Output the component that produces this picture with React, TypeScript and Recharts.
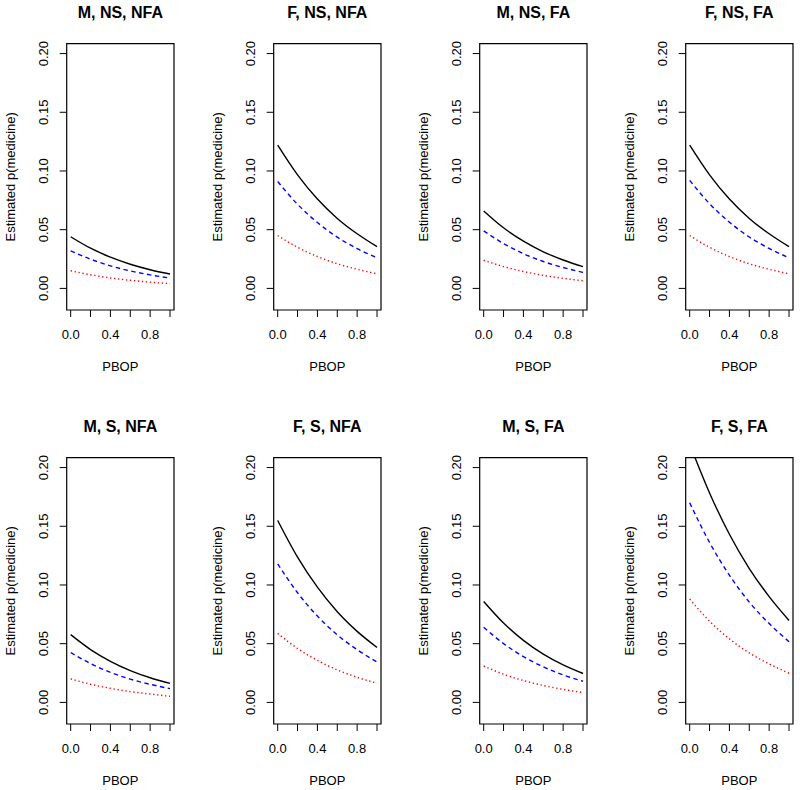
import React from "react";
import { LineChart, Line, XAxis, YAxis, ReferenceArea } from "recharts";

const pbop = [0, 0.2, 0.4, 0.6, 0.8, 1.0];
const xTicks = [0, 0.2, 0.4, 0.6, 0.8, 1.0];
const xTickLabels = ["0.0", "", "0.4", "", "0.8", ""];
const yTicks = [0, 0.05, 0.1, 0.15, 0.2];
const yTickLabels = ["0.00", "0.05", "0.10", "0.15", "0.20"];

const titles = [
  "M, NS, NFA", "F, NS, NFA", "M, NS, FA", "F, NS, FA",
  "M, S, NFA", "F, S, NFA", "M, S, FA", "F, S, FA",
];

// black solid
const black1 = [0.044, 0.0342, 0.0266, 0.0206, 0.0159, 0.0122];
const black2 = [0.122, 0.0967, 0.0761, 0.0596, 0.0465, 0.0355];
const black3 = [0.066, 0.0516, 0.0402, 0.0312, 0.0242, 0.0185];
const black4 = [0.122, 0.0967, 0.0761, 0.0596, 0.0465, 0.0355];
const black5 = [0.0577, 0.045, 0.035, 0.0271, 0.021, 0.0162];
const black6 = [0.155, 0.1237, 0.0981, 0.0772, 0.0605, 0.0468];
const black7 = [0.086, 0.0676, 0.0528, 0.0411, 0.0319, 0.0246];
const black8 = [0.22, 0.1784, 0.1432, 0.114, 0.0901, 0.0698];
// blue dashed
const blue1 = [0.032, 0.0249, 0.0192, 0.0149, 0.0115, 0.0088];
const blue2 = [0.091, 0.0716, 0.0561, 0.0436, 0.0339, 0.0261];
const blue3 = [0.049, 0.0382, 0.0296, 0.0229, 0.0178, 0.0136];
const blue4 = [0.092, 0.0722, 0.0564, 0.0438, 0.034, 0.0261];
const blue5 = [0.0425, 0.0331, 0.0256, 0.0198, 0.0154, 0.0117];
const blue6 = [0.118, 0.0934, 0.0735, 0.0575, 0.0449, 0.0344];
const blue7 = [0.064, 0.0501, 0.039, 0.0303, 0.0234, 0.018];
const blue8 = [0.17, 0.1362, 0.1083, 0.0854, 0.0671, 0.0517];
// red dotted
const red1 = [0.015, 0.0116, 0.0089, 0.0069, 0.0053, 0.0041];
const red2 = [0.045, 0.035, 0.0271, 0.021, 0.0163, 0.0124];
const red3 = [0.024, 0.0186, 0.0144, 0.0111, 0.0086, 0.0065];
const red4 = [0.045, 0.035, 0.0271, 0.021, 0.0163, 0.0124];
const red5 = [0.02, 0.0155, 0.012, 0.0092, 0.0071, 0.0052];
const red6 = [0.0588, 0.0459, 0.0358, 0.0277, 0.0214, 0.0163];
const red7 = [0.031, 0.024, 0.0186, 0.0144, 0.0111, 0.0084];
const red8 = [0.088, 0.0692, 0.0541, 0.0421, 0.0328, 0.0248];

const blacks = [black1, black2, black3, black4, black5, black6, black7, black8];
const blues = [blue1, blue2, blue3, blue4, blue5, blue6, blue7, blue8];
const reds = [red1, red2, red3, red4, red5, red6, red7, red8];

const X_DOMAIN: [number, number] = [-0.04, 1.04];
const Y_DOMAIN: [number, number] = [-0.0184, 0.2084];

const FONT = "'Liberation Sans', Arial, Helvetica, sans-serif";
const FS = 13;

const BOX_LEFT = 66.7;
const BOX_W = 107.3;
const BOX_H = 266.3;
const TOP = 43.7;
const RIGHT = 10;
const XAXIS_H = 65;
const CHART_W = BOX_LEFT + BOX_W + RIGHT;
const CHART_H = TOP + BOX_H + XAXIS_H;

const colLefts = [0, 206.6, 412.8, 619.3];
const rowTops = [0, 413.6];

const XTick = (p: any) => {
  const idx = xTicks.indexOf(p.payload.value);
  const label = idx >= 0 ? xTickLabels[idx] : "";
  return (
    <text x={p.x} y={p.y + 21.6} textAnchor="middle" fontFamily={FONT} fontSize={FS} fill="#000">
      {label}
    </text>
  );
};

const YTick = (p: any) => {
  const idx = yTicks.indexOf(p.payload.value);
  const label = idx >= 0 ? yTickLabels[idx] : "";
  const bx = p.x - 11.4;
  return (
    <text
      x={bx}
      y={p.y}
      transform={`rotate(-90 ${bx} ${p.y})`}
      textAnchor="middle"
      fontFamily={FONT}
      fontSize={FS}
      fill="#000"
    >
      {label}
    </text>
  );
};

function Panel({ i }: { i: number }) {
  const data = pbop.map((x, k) => ({
    x,
    black: blacks[i][k],
    blue: blues[i][k],
    red: reds[i][k],
  }));
  const title = titles[i];
  const renderLabels = (props: any) => {
    const vb = props.viewBox || { x: BOX_LEFT, y: TOP, width: BOX_W, height: BOX_H };
    const cx = vb.x + vb.width / 2;
    const cy = vb.y + vb.height / 2;
    const yx = vb.x - 52;
    return (
      <g>
        <text x={cx} y={vb.y - 25.4} textAnchor="middle" fontFamily={FONT} fontSize={16} fontWeight="bold" fill="#000">
          {title}
        </text>
        <text x={cx} y={vb.y + vb.height + 61} textAnchor="middle" fontFamily={FONT} fontSize={FS} fill="#000">
          PBOP
        </text>
        <text
          x={yx}
          y={cy}
          transform={`rotate(-90 ${yx} ${cy})`}
          textAnchor="middle"
          fontFamily={FONT}
          fontSize={FS}
          fill="#000"
        >
          Estimated p(medicine)
        </text>
      </g>
    );
  };
  const col = i % 4;
  const row = Math.floor(i / 4);
  return (
    <div style={{ position: "absolute", left: colLefts[col], top: rowTops[row] }}>
      <LineChart
        width={CHART_W}
        height={CHART_H}
        data={data}
        margin={{ top: TOP, right: RIGHT, bottom: 0, left: 0 }}
      >
        <XAxis
          type="number"
          dataKey="x"
          domain={X_DOMAIN}
          ticks={xTicks}
          interval={0}
          allowDataOverflow
          axisLine={false}
          tickLine={{ stroke: "#000", strokeWidth: 1 }}
          tickSize={7}
          tickMargin={0}
          height={XAXIS_H}
          tick={XTick}
        />
        <YAxis
          type="number"
          domain={Y_DOMAIN}
          ticks={yTicks}
          interval={0}
          allowDataOverflow
          axisLine={false}
          tickLine={{ stroke: "#000", strokeWidth: 1 }}
          tickSize={7}
          tickMargin={0}
          width={BOX_LEFT}
          tick={YTick}
        />
        <Line type="monotone" dataKey="red" stroke="#FF0000" strokeWidth={1.4} strokeDasharray="1.3 2.7" dot={false} isAnimationActive={false} />
        <Line type="monotone" dataKey="blue" stroke="#0000FF" strokeWidth={1.4} strokeDasharray="4.5 3.5" dot={false} isAnimationActive={false} />
        <Line type="monotone" dataKey="black" stroke="#000000" strokeWidth={1.4} dot={false} isAnimationActive={false} />
        <ReferenceArea
          x1={X_DOMAIN[0]}
          x2={X_DOMAIN[1]}
          y1={Y_DOMAIN[0]}
          y2={Y_DOMAIN[1]}
          fill="none"
          fillOpacity={0}
          stroke="#000"
          strokeWidth={1.2}
          strokeOpacity={1}
          ifOverflow="visible"
          label={renderLabels}
        />
      </LineChart>
    </div>
  );
}

export default function App() {
  return (
    <div style={{ position: "absolute", left: 0, top: 0, width: 800, height: 790, background: "#fff", overflow: "hidden" }}>
      {titles.map((_, i) => (
        <Panel key={i} i={i} />
      ))}
    </div>
  );
}
